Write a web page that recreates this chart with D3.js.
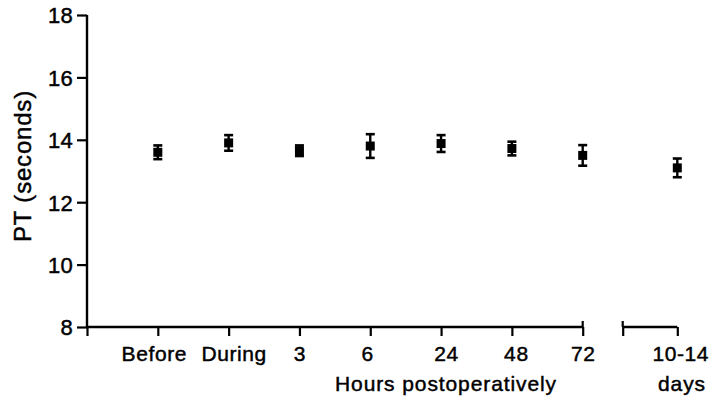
<!DOCTYPE html>
<html>
<head>
<meta charset="utf-8">
<script src="https://cdn.jsdelivr.net/npm/d3@7"></script>
<style>
  html, body { margin: 0; padding: 0; background: #fff; }
  svg { display: block; }
  text { font-family: Arial, "Liberation Sans", Helvetica, sans-serif; fill: #000; stroke: #000; stroke-width: 0.45px; }
</style>
</head>
<body>
<svg id="chart" width="712" height="398"></svg>
<script>
// ---- data ----
const hourCategories = ["Before", "During", "3", "6", "24", "48", "72"];
const hourMeans      = [13.6, 13.9, 13.65, 13.8, 13.88, 13.72, 13.5];
const hourErrors     = [0.22, 0.25, 0.17, 0.38, 0.27, 0.22, 0.33];
const dayCategories  = ["10-14"];
const dayMeans       = [13.1];
const dayErrors      = [0.3];
const yTicks         = [8, 10, 12, 14, 16, 18];
const yTitle         = "PT (seconds)";
const hoursTitle     = "Hours postoperatively";
const daysTitle      = "days";

// ---- layout ----
const svg = d3.select("#chart");
const axisY = 327;
const y = d3.scaleLinear().domain([8, 18]).range([axisY, 15]);
const xMain = d3.scalePoint().domain(["", ...hourCategories]).range([87, 582.7]);
const xDays = d3.scalePoint().domain(["", ...dayCategories]).range([622.7, 677.3]);

const points = hourCategories.map((c, i) => ({ x: xMain(c), m: hourMeans[i], e: hourErrors[i] }))
  .concat(dayCategories.map((c, i) => ({ x: xDays(c), m: dayMeans[i], e: dayErrors[i] })));

const FONT = "Arial, 'Liberation Sans', sans-serif";

// ---- y axis ----
const yAxis = d3.axisLeft(y).tickValues(yTicks).tickSize(10).tickPadding(4).tickFormat(d3.format("d"));
const gy = svg.append("g").attr("transform", "translate(87,0)").call(yAxis);
gy.select(".domain").attr("d", `M0,${y(18)}V${axisY}`).attr("stroke", "#000").attr("stroke-width", 2.4);
gy.selectAll(".tick line").attr("stroke", "#000").attr("stroke-width", 2.2);
gy.selectAll(".tick text").attr("font-size", 22).attr("letter-spacing", "0.3px").attr("dy", "0.36em")
  .attr("font-family", FONT).attr("fill", "#000");

// ---- x axes (broken) ----
const xAxisMain = d3.axisBottom(xMain).tickSize(9).tickPadding(10).tickFormat(d => d);
const gx = svg.append("g").attr("transform", `translate(0,${axisY})`).call(xAxisMain);
gx.select(".domain").attr("d", `M${xMain("")},0H${xMain("72")}`).attr("stroke", "#000").attr("stroke-width", 2.4);
gx.selectAll(".tick line").attr("stroke", "#000").attr("stroke-width", 2.2);

const xAxisDays = d3.axisBottom(xDays).tickSize(9).tickPadding(10).tickFormat(d => d);
const gx2 = svg.append("g").attr("transform", `translate(0,${axisY})`).call(xAxisDays);
gx2.select(".domain").attr("d", `M${xDays("")},0H${xDays(dayCategories[0])}`).attr("stroke", "#000").attr("stroke-width", 2.4);
gx2.selectAll(".tick line").attr("stroke", "#000").attr("stroke-width", 2.2);

[gx, gx2].forEach(g => g.selectAll(".tick text").attr("font-size", 21).attr("letter-spacing", "0.6px")
  .attr("font-family", FONT).attr("fill", "#000").attr("dy", "0.71em"));
// small label nudges as in the original layout
gx.selectAll(".tick text").attr("dx", d => d === "Before" ? -4 : d === "During" ? 5 : d === "24" ? 5 : d === "48" ? 4 : d === "6" ? -3 : 0);
gx2.selectAll(".tick text").attr("dx", 3);

// break marks extending upward
svg.append("line").attr("x1", xMain("72")).attr("x2", xMain("72")).attr("y1", axisY - 6).attr("y2", axisY)
  .attr("stroke", "#000").attr("stroke-width", 2.2);
svg.append("line").attr("x1", xDays("")).attr("x2", xDays("")).attr("y1", axisY - 6).attr("y2", axisY)
  .attr("stroke", "#000").attr("stroke-width", 2.2);

// ---- titles ----
svg.append("text").attr("transform", "translate(31,166) rotate(-90)").attr("text-anchor", "middle")
  .attr("font-size", 24).attr("letter-spacing", "0.8px").text(yTitle);
svg.append("text").attr("x", 446).attr("y", 391).attr("text-anchor", "middle")
  .attr("font-size", 21).attr("letter-spacing", "0.9px").text(hoursTitle);
svg.append("text").attr("x", 682).attr("y", 391).attr("text-anchor", "middle")
  .attr("font-size", 21).attr("letter-spacing", "0.9px").text(daysTitle);

// ---- error bars and markers ----
const g = svg.append("g");
const cap = 4.5;
points.forEach(p => {
  g.append("line").attr("x1", p.x).attr("x2", p.x).attr("y1", y(p.m + p.e)).attr("y2", y(p.m - p.e))
    .attr("stroke", "#000").attr("stroke-width", 2.4);
  [p.m + p.e, p.m - p.e].forEach(v => {
    g.append("line").attr("x1", p.x - cap).attr("x2", p.x + cap).attr("y1", y(v)).attr("y2", y(v))
      .attr("stroke", "#000").attr("stroke-width", 2.6);
  });
  g.append("rect").attr("x", p.x - 4.5).attr("y", y(p.m) - 4.5).attr("width", 9).attr("height", 9).attr("fill", "#000");
});
</script>
</body>
</html>
